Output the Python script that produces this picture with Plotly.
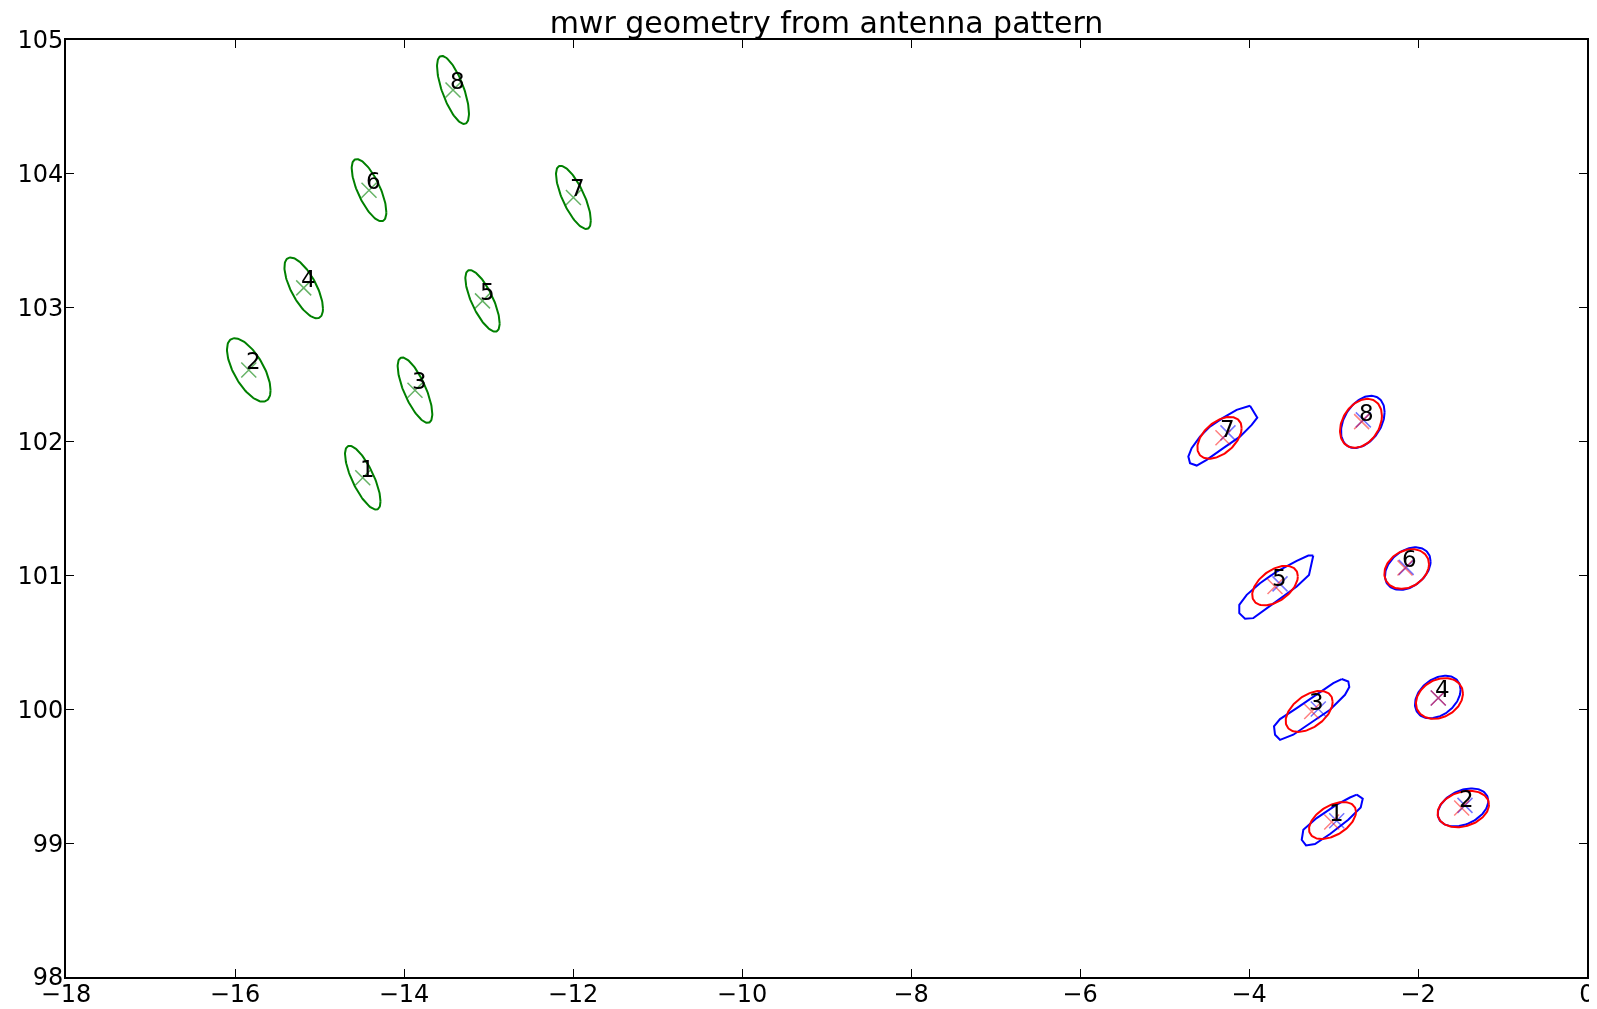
import numpy as np
import plotly.graph_objects as go

# ---------------- data ----------------
beam_ids = ["1", "2", "3", "4", "5", "6", "7", "8"]

# left group: green footprint ellipses (center, half-extent in x / y, phase in deg)
green_cx = [-14.488, -15.837, -13.870, -15.187, -13.071, -14.414, -11.995, -13.420]
green_cy = [101.730, 102.535, 102.384, 103.148, 103.051, 103.878, 103.824, 104.627]
green_hx = [0.210, 0.258, 0.205, 0.228, 0.203, 0.205, 0.206, 0.189]
green_hy = [0.238, 0.237, 0.244, 0.227, 0.230, 0.232, 0.236, 0.254]
green_ph = [138, 130, 137, 133, 137, 135, 137, 134]

# right group: red fitted ellipses
red_cx = [-3.012, -1.464, -3.288, -1.746, -3.692, -2.134, -4.349, -2.675]
red_cy = [99.169, 99.255, 99.984, 100.081, 100.924, 101.048, 102.028, 102.136]
red_hx = [0.278, 0.304, 0.278, 0.278, 0.270, 0.264, 0.262, 0.248]
red_hy = [0.138, 0.136, 0.153, 0.152, 0.148, 0.148, 0.156, 0.183]
red_ph = [62, 76, 62, 76, 62, 76, 62, 72]

# red beam-centre markers
red_mx = [-3.021, -1.483, -3.258, -1.760, -3.692, -2.154, -4.308, -2.667]
red_my = [99.158, 99.262, 99.984, 100.084, 100.917, 101.055, 102.028, 102.149]

# blue beam-centre markers
blue_mx = [-2.962, -1.444, -3.180, -1.760, -3.633, -2.140, -4.249, -2.647]
blue_my = [99.167, 99.282, 100.002, 100.084, 100.937, 101.060, 102.065, 102.162]

# blue contours of beams 2,4,6,8 (ellipse-like)
blue_e_ids = ["2", "4", "6", "8"]
blue_e_cx = [-1.467, -1.766, -2.121, -2.653]
blue_e_cy = [99.267, 100.092, 101.051, 102.147]
blue_e_hx = [0.299, 0.270, 0.270, 0.258]
blue_e_hy = [0.142, 0.159, 0.159, 0.195]
blue_e_ph = [70, 70, 70, 68]

# blue contour vertices of beams 1,3,5,7
blue1_x = [-2.725, -2.654, -2.678, -2.825, -3.041, -3.219, -3.325, -3.376, -3.357, -3.199, -2.962, -2.805]
blue1_y = [99.362, 99.332, 99.267, 99.175, 99.068, 98.993, 98.983, 99.025, 99.100, 99.187, 99.287, 99.341]
blue3_x = [-2.903, -2.825, -2.813, -2.864, -3.041, -3.278, -3.476, -3.633, -3.692, -3.704, -3.633, -3.435, -3.199, -3.002]
blue3_y = [100.226, 100.208, 100.166, 100.108, 99.996, 99.897, 99.810, 99.772, 99.810, 99.872, 99.927, 100.009, 100.108, 100.196]
blue5_x = [-3.239, -3.290, -3.435, -3.712, -3.949, -4.047, -4.115, -4.115, -4.027, -3.870, -3.672, -3.435, -3.298]
blue5_y = [101.149, 101.004, 100.917, 100.793, 100.681, 100.676, 100.718, 100.780, 100.855, 100.942, 101.029, 101.109, 101.149]
blue7_x = [-3.988, -3.902, -3.968, -4.107, -4.304, -4.501, -4.619, -4.698, -4.718, -4.679, -4.580, -4.462, -4.304, -4.146]
blue7_y = [102.267, 102.179, 102.125, 102.037, 101.951, 101.863, 101.821, 101.839, 101.888, 101.951, 102.037, 102.112, 102.179, 102.237]

x_ticks = [-18, -16, -14, -12, -10, -8, -6, -4, -2, 0]
y_ticks = [98, 99, 100, 101, 102, 103, 104, 105]
title_text = "mwr geometry from antenna pattern"

# ---------------- helpers ----------------
def ellipse_path(cx, cy, hx, hy, ph):
    xs, ys = [], []
    t = np.linspace(0, 2 * np.pi, 121)
    for a, b, c, d, p in zip(cx, cy, hx, hy, ph):
        xs += list(a + c * np.cos(t)) + [None]
        ys += list(b + d * np.cos(t - np.radians(p))) + [None]
    return xs, ys


def closed_paths(polys):
    xs, ys = [], []
    for px, py in polys:
        xs += list(px) + [px[0], None]
        ys += list(py) + [py[0], None]
    return xs, ys


GREEN = "#008000"
BLUE = "#0000ff"
RED = "#ff0000"
FONT = "DejaVu Sans"

fig = go.Figure()

gx, gy = ellipse_path(green_cx, green_cy, green_hx, green_hy, green_ph)
fig.add_trace(go.Scatter(x=gx, y=gy, mode="lines", line=dict(color=GREEN, width=2),
                         hoverinfo="skip", showlegend=False))

bx, by = ellipse_path(blue_e_cx, blue_e_cy, blue_e_hx, blue_e_hy, blue_e_ph)
px_, py_ = closed_paths([(blue1_x, blue1_y), (blue3_x, blue3_y), (blue5_x, blue5_y), (blue7_x, blue7_y)])
fig.add_trace(go.Scatter(x=bx + px_, y=by + py_, mode="lines", line=dict(color=BLUE, width=2),
                         hoverinfo="skip", showlegend=False))

rx, ry = ellipse_path(red_cx, red_cy, red_hx, red_hy, red_ph)
fig.add_trace(go.Scatter(x=rx, y=ry, mode="lines", line=dict(color=RED, width=2),
                         hoverinfo="skip", showlegend=False))

marker_common = dict(symbol="x-thin", size=15)
fig.add_trace(go.Scatter(x=green_cx, y=green_cy, mode="markers", opacity=0.6,
                         marker=dict(**marker_common, line=dict(color=GREEN, width=1.5)),
                         showlegend=False))
fig.add_trace(go.Scatter(x=blue_mx, y=blue_my, mode="markers", opacity=0.55,
                         marker=dict(**marker_common, line=dict(color=BLUE, width=1.5)),
                         showlegend=False))
fig.add_trace(go.Scatter(x=red_mx, y=red_my, mode="markers", opacity=0.5,
                         marker=dict(**marker_common, line=dict(color=RED, width=1.5)),
                         showlegend=False))

annotations = []
for lab, x, y in list(zip(beam_ids, green_cx, green_cy)) + list(zip(beam_ids, red_mx, red_my)):
    annotations.append(dict(x=x, y=y, xref="x", yref="y", text=lab, showarrow=False,
                            xanchor="left", yanchor="bottom", xshift=-5, yshift=-6,
                            font=dict(family=FONT, size=23, color="black")))

axis_common = dict(showgrid=False, zeroline=False, showline=True, linecolor="black",
                   linewidth=1.6, mirror="ticks", ticks="inside", ticklen=8, tickwidth=1,
                   tickcolor="black", automargin=False,
                   tickfont=dict(family=FONT, size=24, color="black"))

# the page body adds an 8 px margin, so the figure is 16 px smaller and margins shifted
fig.update_layout(
    width=1589, height=1001,
    margin=dict(l=58, r=10, t=32, b=32),
    paper_bgcolor="white", plot_bgcolor="white",
    title=dict(text=title_text, x=0.5, xref="paper", xanchor="center",
               y=1 - 25.0 / 1001, yref="container", yanchor="bottom", pad=dict(b=0, t=0),
               font=dict(family=FONT, size=30, color="black")),
    xaxis=dict(range=[-18, 0], tickvals=x_ticks, ticklabelstandoff=-6, **axis_common),
    yaxis=dict(range=[98, 105], tickvals=y_ticks, ticklabelstandoff=-4, **axis_common),
    annotations=annotations,
)

fig.write_html("out.html")
